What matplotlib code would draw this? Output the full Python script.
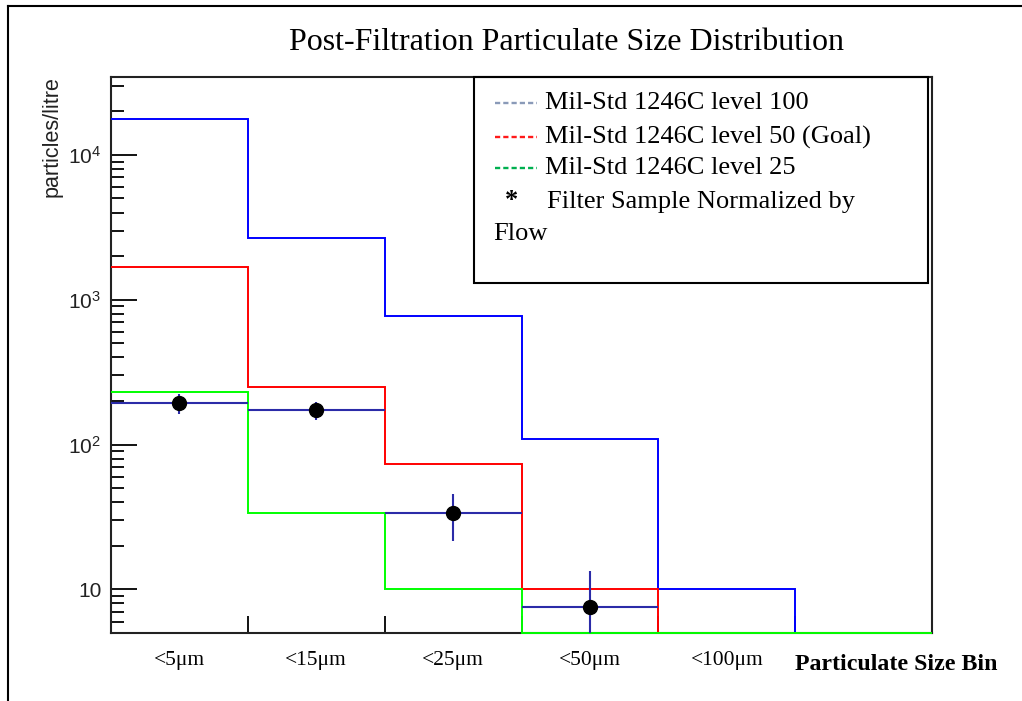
import numpy as np
import matplotlib
matplotlib.use('Agg')
import matplotlib.pyplot as plt
from matplotlib.lines import Line2D
from matplotlib.patches import Rectangle
from matplotlib.ticker import LogLocator, NullFormatter, FixedLocator, FixedFormatter

# bins
bin_labels = ['<5\u03bcm', '<15\u03bcm', '<25\u03bcm', '<50\u03bcm', '<100\u03bcm']
edges = np.arange(7)

# Mil-Std 1246C levels, particles/litre
level100 = [17800, 2650, 770, 110, 10, 0]
level50 = [1680, 251, 73, 10, 0, 0]
level25 = [230, 33.5, 10, 0, 0, 0]

# filter sample normalized by flow
sample_bins = [0.5, 1.5, 2.5, 3.5]
sample_vals = [193, 173, 33.5, 7.5]
sample_err = [30, 25, 12, 6]

ymin, ymax = 5, 34500

W, H = 1022, 701


def px(x, y):
    return x / W, 1 - y / H


plt.rcParams['font.family'] = ['Liberation Serif', 'DejaVu Serif']
plt.rcParams['mathtext.fontset'] = 'custom'
plt.rcParams['mathtext.rm'] = 'Liberation Sans'

fig = plt.figure(figsize=(W / 100, H / 100), dpi=100)
ax = fig.add_axes([111 / W, 1 - 633 / H, (932 - 111) / W, (633 - 77) / H])

for vals, col in [(level100, '#0000ff'), (level50, '#ff0000'), (level25, '#00ff00')]:
    v = np.clip(np.array(vals, dtype=float), ymin, None)
    ax.stairs(v, edges, baseline=None, color=col, lw=1.4, zorder=3, clip_on=False)

ax.errorbar(sample_bins, sample_vals, yerr=sample_err, xerr=0.5, fmt='o',
            color='black', ms=10, ecolor='#2b2ba8', elinewidth=1.5, capsize=0, zorder=4)

ax.set_yscale('log')
ax.set_xlim(0, 6)
ax.set_ylim(ymin, ymax)

ax.yaxis.set_major_locator(FixedLocator([10, 100, 1000, 10000]))
ax.yaxis.set_major_formatter(FixedFormatter(['10', r'$\mathregular{10^2}$',
                                             r'$\mathregular{10^3}$', r'$\mathregular{10^4}$']))
ax.yaxis.set_minor_locator(LogLocator(base=10, subs=np.arange(2, 10)))
ax.yaxis.set_minor_formatter(NullFormatter())
ax.set_xticks(edges[1:-1])
ax.set_xticklabels([])
ax.tick_params(axis='y', which='major', direction='in', length=18.5, width=1.3,
               labelsize=15, pad=7, labelfontfamily='Liberation Sans', labelcolor='#222222')
ax.tick_params(axis='y', which='minor', direction='in', length=9.5, width=1.3)
ax.tick_params(axis='x', which='major', direction='in', length=12, width=1.3)
for s in ax.spines.values():
    s.set_linewidth(1.5)
    s.set_color('#222222')
    s.set_zorder(2)

for i, lab in enumerate(bin_labels):
    ax.text(i + 0.5, -27 / 556, lab, transform=ax.get_xaxis_transform(),
            ha='center', va='center', fontsize=15.5)

fig.text(*px(795, 664), 'Particulate Size Bin', fontsize=17.2, fontweight='bold',
         ha='left', va='center')
fig.text(*px(566, 42), 'Post-Filtration Particulate Size Distribution', fontsize=23,
         ha='center', va='center')
fig.text(*px(52, 76), 'particles/litre', rotation=90, ha='center', va='top',
         fontsize=15.5, family='Liberation Sans', color='#222222')

# legend box
fig.add_artist(Rectangle(px(474, 283), (928 - 474) / W, (283 - 77) / H,
                         transform=fig.transFigure, fill=False, ec='black', lw=1.5))
leg = [('Mil-Std 1246C level 100', '#8a9ab8', 103),
       ('Mil-Std 1246C level 50 (Goal)', '#ff1a1a', 137),
       ('Mil-Std 1246C level 25', '#00b050', 168)]
for txt, col, yy in leg:
    x0, y0 = px(495, yy)
    x1, _ = px(537, yy)
    fig.add_artist(Line2D([x0, x1], [y0, y0], transform=fig.transFigure, color=col,
                          lw=1.7, dashes=(2.2, 1.3)))
    fig.text(*px(545, yy), txt, fontsize=19, ha='left', va='center')
fig.text(*px(512, 200), '*', fontsize=19, fontweight='bold', ha='center', va='center')
fig.text(*px(547, 202), 'Filter Sample Normalized by', fontsize=19, ha='left', va='center')
fig.text(*px(493, 234), 'Flow', fontsize=19, ha='left', va='center')

# outer frame
fig.add_artist(Line2D([8 / W, 8 / W], [0, 1 - 6 / H], transform=fig.transFigure,
                      color='black', lw=1.5))
fig.add_artist(Line2D([8 / W, 1], [1 - 6 / H, 1 - 6 / H], transform=fig.transFigure,
                      color='black', lw=1.5))

fig.savefig('out.png', dpi=100)
